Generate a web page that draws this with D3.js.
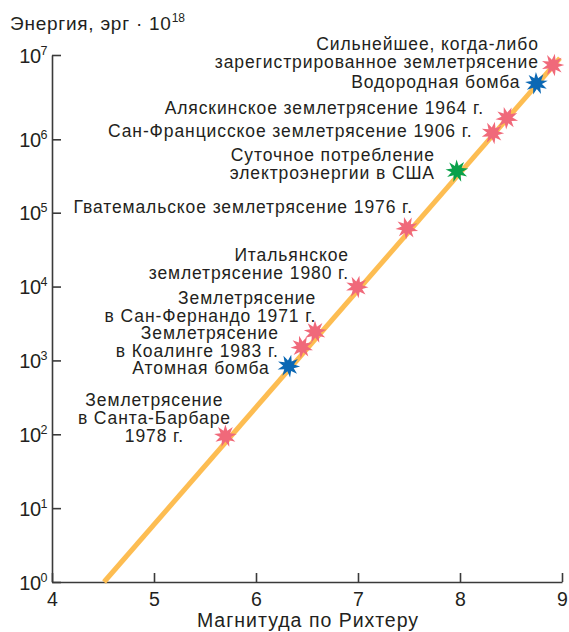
<!DOCTYPE html>
<html><head><meta charset="utf-8">
<script src="https://cdn.jsdelivr.net/npm/d3@7"></script>
<style>
html,body{margin:0;padding:0;background:#fff;}
svg{display:block;font-family:"Liberation Sans",Arial,Helvetica,sans-serif;}
</style></head>
<body>
<svg id="chart" width="569" height="632"></svg>
<script>
// ---- data ----
const events = [
  "Землетрясение в Санта-Барбаре 1978 г.",
  "Атомная бомба",
  "Землетрясение в Коалинге 1983 г.",
  "Землетрясение в Сан-Фернандо 1971 г.",
  "Итальянское землетрясение 1980 г.",
  "Гватемальское землетрясение 1976 г.",
  "Суточное потребление электроэнергии в США",
  "Сан-Францисское землетрясение 1906 г.",
  "Аляскинское землетрясение 1964 г.",
  "Водородная бомба",
  "Сильнейшее, когда-либо зарегистрированное землетрясение"
];
const magnitudes = [5.7, 6.32, 6.45, 6.58, 6.99, 7.48, 7.97, 8.32, 8.46, 8.75, 8.91];
const energies   = [95, 840, 1520, 2430, 9900, 62000, 370000, 1.19e6, 1.79e6, 4.6e6, 7.6e6];
const kinds      = ["quake","bomb","quake","quake","quake","quake","power","quake","quake","bomb","quake"];
const labelLines = [
  ["Землетрясение","в Санта-Барбаре","1978 г."],
  ["Атомная бомба"],
  ["Землетрясение","в Коалинге 1983 г."],
  ["Землетрясение","в Сан-Фернандо 1971 г."],
  ["Итальянское","землетрясение 1980 г."],
  ["Гватемальское  землетрясение 1976 г."],
  ["Суточное потребление","электроэнергии в США"],
  ["Сан-Францисское землетрясение 1906 г."],
  ["Аляскинское землетрясение 1964 г."],
  ["Водородная бомба"],
  ["Сильнейшее, когда-либо","зарегистрированное землетрясение"]
];
const lineMagnitudes = [4.51, 8.98];
const lineEnergies   = [1, 9.2e6];
const xTicks = [4, 5, 6, 7, 8, 9];
const yTickExponents = [0, 1, 2, 3, 4, 5, 6, 7];
const yTitle = "Энергия, эрг · 10";
const yTitleExp = "18";
const xTitle = "Магнитуда по Рихтеру";

// ---- layout (label offsets relative to star, anchor) ----
const labelLayout = [
  {dx:-71, dy:-36, anchor:"middle"},
  {dx:-19, dy:2,   anchor:"end"},
  {dx:-23, dy:-14, anchor:"end"},
  {dx:1,   dy:-34, anchor:"end"},
  {dx:-8,  dy:-32, anchor:"end"},
  {dx:6,   dy:-21, anchor:"end"},
  {dx:-22, dy:-16, anchor:"end"},
  {dx:-20, dy:-2,  anchor:"end"},
  {dx:-23, dy:-10, anchor:"end"},
  {dx:-16, dy:-1,  anchor:"end"},
  {dx:-14, dy:-21, anchor:"end"}
];
const colors = {quake:"#f0697a", bomb:"#0b68b4", power:"#0aa14a"};
const ink = "#231f20";

const svg = d3.select("#chart");
const x = d3.scaleLinear().domain([4, 9]).range([52, 562]);
const y = d3.scaleLog().domain([1, 1e5, 1e6, 1e7]).range([582, 212.7, 139.3, 55]);

// axes
const yAxis = d3.axisLeft(y)
  .tickValues(yTickExponents.map(e => Math.pow(10, e)))
  .tickSizeInner(-9).tickSizeOuter(0).tickFormat("");
const gy = svg.append("g").attr("transform", `translate(${x(4)},0)`).call(yAxis);
const xAxis = d3.axisBottom(x).tickValues(xTicks).tickSizeInner(-9).tickSizeOuter(0).tickFormat("");
const gx = svg.append("g").attr("transform", `translate(0,${y(1)})`).call(xAxis);
[gx, gy].forEach(g => {
  g.selectAll("path,line").attr("stroke", "#3a3a3a").attr("stroke-width", 1.6);
});
// x tick labels
gx.selectAll(".tick").append("text")
  .attr("y", 23.5).attr("fill", ink).attr("text-anchor", "middle")
  .attr("font-size", 19.5).text(d => d);
// y tick labels with superscripts
gy.selectAll(".tick").each(function(d, i) {
  const t = d3.select(this).append("text")
    .attr("x", -5).attr("y", 7).attr("fill", ink)
    .attr("text-anchor", "end").attr("font-size", 20).attr("letter-spacing", -0.5);
  t.append("tspan").text("10");
  t.append("tspan").attr("font-size", 12.5).attr("dy", -8).text(yTickExponents[i]);
});

// titles
const yt = svg.append("text").attr("x", 10).attr("y", 30).attr("fill", ink)
  .attr("font-size", 19).attr("letter-spacing", 0.75);
yt.append("tspan").text(yTitle);
yt.append("tspan").attr("font-size", 12).attr("dy", -8).attr("letter-spacing", 0).text(yTitleExp);
svg.append("text").attr("x", 308).attr("y", 627).attr("text-anchor", "middle")
  .attr("fill", ink).attr("font-size", 19.5).attr("letter-spacing", 1).text(xTitle);

// trend line
const lineData = lineMagnitudes.map((m, i) => [m, lineEnergies[i]]);
svg.append("path").datum(lineData)
  .attr("d", d3.line().x(d => x(d[0])).y(d => y(d[1])))
  .attr("stroke", "#fdbd52").attr("stroke-width", 5).attr("fill", "none");

// star markers
function starPath(rOut, rIn, n) {
  const pts = [];
  for (let k = 0; k < 2 * n; k++) {
    const r = k % 2 === 0 ? rOut : rIn;
    const a = Math.PI * k / n - Math.PI / 2;
    pts.push([r * Math.cos(a), r * Math.sin(a)]);
  }
  return d3.line()(pts) + "Z";
}
const star = starPath(11.5, 5.5, 9);
svg.append("g").selectAll("path").data(magnitudes).join("path")
  .attr("d", star)
  .attr("transform", (m, i) => `translate(${x(m)},${y(energies[i])}) rotate(${i * 13})`)
  .attr("fill", (m, i) => colors[kinds[i]]);

// labels
const lg = svg.append("g").attr("fill", ink).attr("font-size", 17.5).attr("letter-spacing", 0.9);
magnitudes.forEach((m, i) => {
  const L = labelLayout[i];
  const t = lg.append("text")
    .attr("text-anchor", L.anchor)
    .attr("x", x(m) + L.dx)
    .attr("y", y(energies[i]) + L.dy + 6);
  labelLines[i].forEach((s, j) => {
    t.append("tspan").attr("x", x(m) + L.dx).attr("dy", j === 0 ? 0 : 18).text(s);
  });
});
</script>
</body></html>
